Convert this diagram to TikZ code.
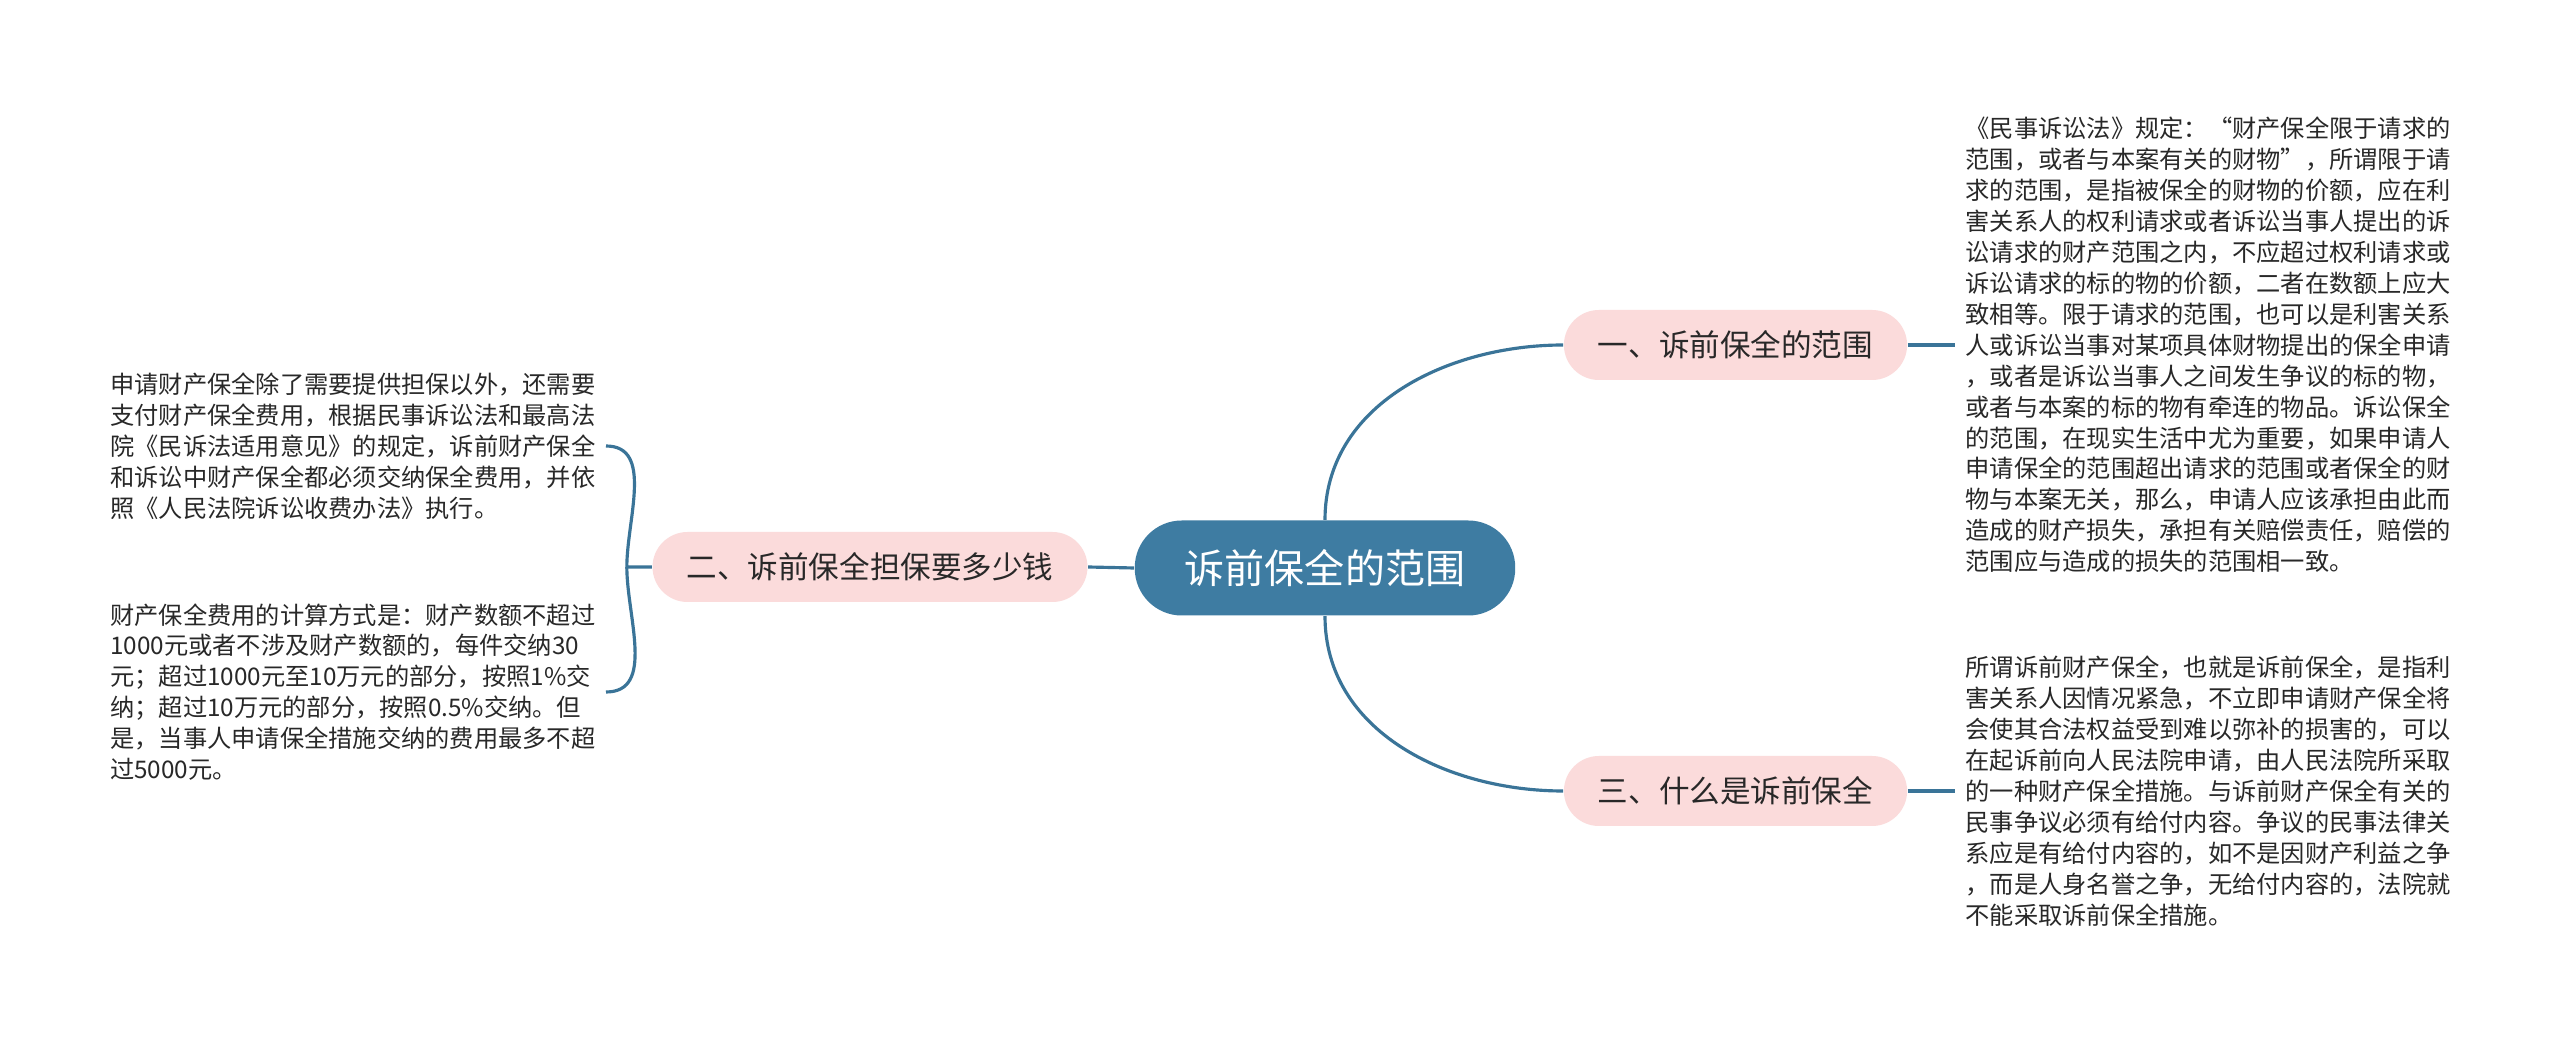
\documentclass[tikz,border=0pt]{standalone}
\usepackage{fontspec}
\setmainfont{Noto Sans CJK SC}
\usepackage{xcolor}
\usetikzlibrary{positioning}
\definecolor{rootcolor}{RGB}{62,124,162}
\definecolor{branchcolor}{RGB}{251,219,219}
\definecolor{linkcolor}{RGB}{58,116,152}
\definecolor{textcolor}{RGB}{40,40,40}

\begin{document}
\begin{tikzpicture}[
  root/.style={fill=rootcolor, text=white, rounded corners=0.47cm, inner xsep=0.5cm, minimum height=0.95cm, font=\fontsize{11.4}{13}\selectfont},
  branch/.style={fill=branchcolor, text=textcolor, rounded corners=0.35cm, inner xsep=0.34cm, minimum height=0.7cm, font=\fontsize{8.7}{10}\selectfont},
  leaf/.style={align=left, text=textcolor, inner sep=0.1cm, font=\fontsize{6.9}{8.8}\selectfont},
  link/.style={draw=linkcolor, line width=0.9pt}
]
% Canvas
\fill[white] (0,0) rectangle (25.6,-10.43);
\useasboundingbox (0,0) rectangle (25.6,-10.43);

% Centre and branches
\node[root] (root) at (13.25,-5.68) {诉前保全的范围};
\node[branch] (scope) at (17.355,-3.45) {一、诉前保全的范围};
\node[branch] (cost) at (8.70,-5.67) {二、诉前保全担保要多少钱};
\node[branch] (what) at (17.355,-7.91) {三、什么是诉前保全};

% Right texts
\node[leaf, right=0.47cm of scope] (scopetext) {《民事诉讼法》规定：“财产保全限于请求的\\
范围，或者与本案有关的财物”，所谓限于请\\
求的范围，是指被保全的财物的价额，应在利\\
害关系人的权利请求或者诉讼当事人提出的诉\\
讼请求的财产范围之内，不应超过权利请求或\\
诉讼请求的标的物的价额，二者在数额上应大\\
致相等。限于请求的范围，也可以是利害关系\\
人或诉讼当事对某项具体财物提出的保全申请\\
，或者是诉讼当事人之间发生争议的标的物，\\
或者与本案的标的物有牵连的物品。诉讼保全\\
的范围，在现实生活中尤为重要，如果申请人\\
申请保全的范围超出请求的范围或者保全的财\\
物与本案无关，那么，申请人应该承担由此而\\
造成的财产损失，承担有关赔偿责任，赔偿的\\
范围应与造成的损失的范围相一致。};
\node[leaf, right=0.47cm of what] (whattext) {所谓诉前财产保全，也就是诉前保全，是指利\\
害关系人因情况紧急，不立即申请财产保全将\\
会使其合法权益受到难以弥补的损害的，可以\\
在起诉前向人民法院申请，由人民法院所采取\\
的一种财产保全措施。与诉前财产保全有关的\\
民事争议必须有给付内容。争议的民事法律关\\
系应是有给付内容的，如不是因财产利益之争\\
，而是人身名誉之争，无给付内容的，法院就\\
不能采取诉前保全措施。};

% Left texts
\node[leaf, anchor=east] (costa) at (6.06,-4.46) {申请财产保全除了需要提供担保以外，还需要\\
支付财产保全费用，根据民事诉讼法和最高法\\
院《民诉法适用意见》的规定，诉前财产保全\\
和诉讼中财产保全都必须交纳保全费用，并依\\
照《人民法院诉讼收费办法》执行。};
\node[leaf, anchor=east] (costb) at (6.06,-6.92) {财产保全费用的计算方式是：财产数额不超过\\
1000元或者不涉及财产数额的，每件交纳30\\
元；超过1000元至10万元的部分，按照1\%交\\
纳；超过10万元的部分，按照0.5\%交纳。但\\
是，当事人申请保全措施交纳的费用最多不超\\
过5000元。};

% Links
\draw[link] (root.north) to[out=90, in=180] (scope.west);
\draw[link] (root.south) to[out=-90, in=180] (what.west);
\draw[link] (root.west) -- (cost.east);
\draw[link] (scope.east) -- (scopetext.west);
\draw[link] (what.east) -- (whattext.west);
\coordinate (fork) at ([xshift=-0.25cm]cost.west);
\draw[link] (cost.west) -- (fork) to[out=90, in=0] (costa.east);
\draw[link] (fork) to[out=-90, in=0] (costb.east);

\end{tikzpicture}
\end{document}
